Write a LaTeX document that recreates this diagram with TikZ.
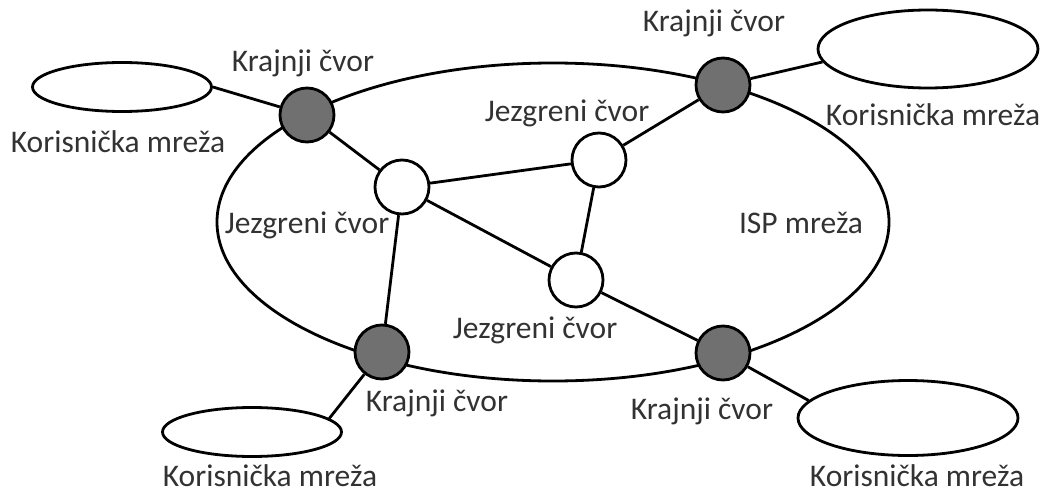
\documentclass[tikz,border=0pt]{standalone}
\usepackage{fontspec}
\setmainfont{Carlito}
\usetikzlibrary{shapes.geometric}
\definecolor{nodegray}{RGB}{112,112,112}
\definecolor{textgray}{RGB}{50,50,50}

\begin{document}
\begin{tikzpicture}[
            x = 1pt, y = -1pt, % picture units follow the reference pixels
            line width = 2.8pt, % line style
            every node/.style = {font = \fontsize{31.5}{36}\selectfont, text = textgray, inner sep = 0pt}
        ]

        \tikzstyle{endnode}=[
            circle,
            draw = black,
            fill = nodegray,
            inner sep = 0pt,
            minimum size = 54pt
        ]
        \tikzstyle{corenode}=[endnode, fill = white]
        \tikzstyle{usernet}=[ellipse, draw = black, fill = white, inner sep = 0pt]

        \useasboundingbox (0,0) rectangle (1052,495);

        % ISP network
        \node[ellipse, draw, minimum width = 672pt, minimum height = 318pt] (ISP) at (553,222) {};

        % end nodes
        \node[endnode] (E1) at (307,115) {};
        \node[endnode] (E2) at (723,85) {};
        \node[endnode] (E3) at (382,352) {};
        \node[endnode] (E4) at (723,353) {};

        % core nodes
        \node[corenode] (C1) at (402,187) {};
        \node[corenode] (C2) at (599,160) {};
        \node[corenode] (C3) at (576,280) {};

        % user networks
        \node[usernet, minimum width = 179pt, minimum height = 49pt] (U1) at (122,87) {};
        \node[usernet, minimum width = 220pt, minimum height = 78pt] (U2) at (928,49) {};
        \node[usernet, minimum width = 179pt, minimum height = 49pt] (U3) at (252,432) {};
        \node[usernet, minimum width = 220pt, minimum height = 75pt] (U4) at (908,418) {};

        \path (U1.east) edge (E1);
        \path (E2) edge (U2.187);
        \path (E3) edge (U3.10);
        \path (E4) edge (U4.170);

        \path (E1) edge (C1);
        \path (C1) edge (C2);
        \path (C2) edge (E2);
        \path (C1) edge (C3);
        \path (C2) edge (C3);
        \path (C3) edge (E4);
        \path (C1) edge (E3);

        % labels
        \node (LE1) at (303,63) {Krajnji čvor};
        \node (LE2) at (714,23) {Krajnji čvor};
        \node (LE3) at (437,403) {Krajnji čvor};
        \node (LE4) at (702,411) {Krajnji čvor};

        \node (LC1) at (307,225) {Jezgreni čvor};
        \node (LC2) at (567,113) {Jezgreni čvor};
        \node (LC3) at (535,330) {Jezgreni čvor};

        \node (LU1) at (118,142) {Korisnička mreža};
        \node (LU2) at (933,115) {Korisnička mreža};
        \node (LU3) at (270,476) {Korisnička mreža};
        \node (LU4) at (917,476) {Korisnička mreža};

        \node (LISP) at (801,223) {ISP mreža};

  \end{tikzpicture}
\end{document}
